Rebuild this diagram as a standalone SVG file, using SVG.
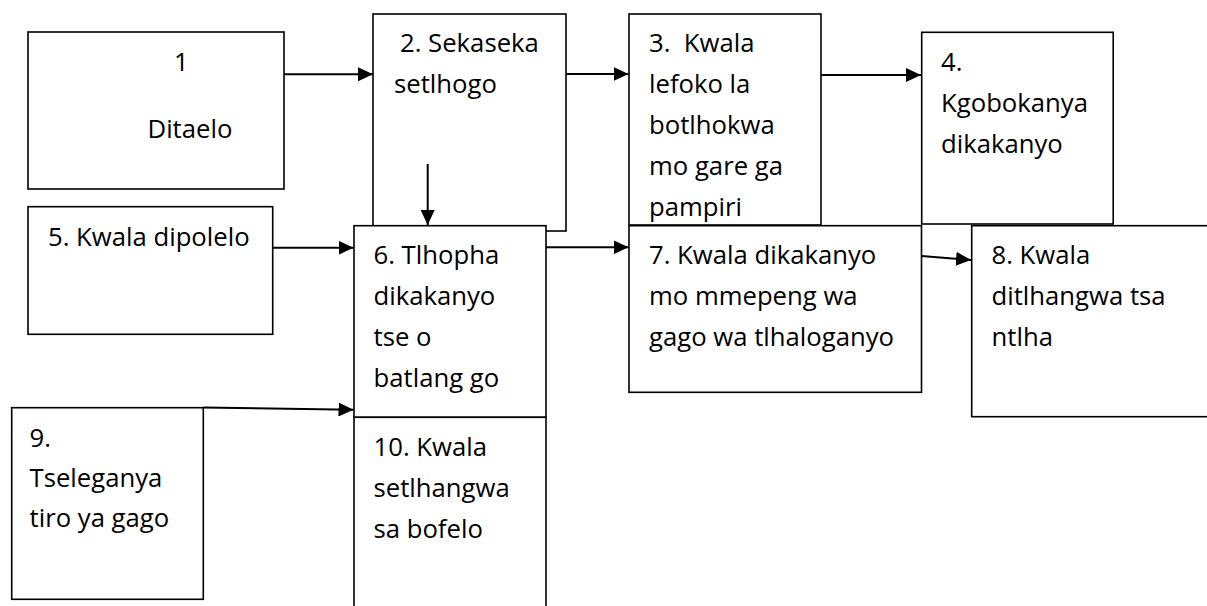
<svg xmlns="http://www.w3.org/2000/svg" width="1207" height="606" viewBox="0 0 1207 606">
<style>
.box{fill:#fff;stroke:#000;stroke-width:1.6}
.t{font-family:"Open Sans","Noto Sans",sans-serif;font-size:25.7px;fill:#000;white-space:pre}
.c{stroke:#000;stroke-width:2;fill:none;marker-end:url(#ah)}
</style>
<defs>
<marker id="ah" markerUnits="userSpaceOnUse" markerWidth="15" markerHeight="14" refX="15" refY="7" orient="auto" viewBox="0 0 15 14"><path d="M0,0 L15,7 L0,14 z" fill="#000"/></marker>
</defs>
<rect width="1207" height="606" fill="#fff"/>
<g id="node1">
<rect class="box" x="28" y="32" width="256" height="157"/>
<text class="t" x="174" y="71">1</text>
<text class="t" x="147.5" y="138">Ditaelo</text>
</g>
<g id="node2">
<rect class="box" x="373" y="14" width="193" height="217"/>
<text class="t" x="400" y="52">2. Sekaseka</text>
<text class="t" x="394" y="93">setlhogo</text>
</g>
<g id="node3">
<rect class="box" x="629" y="14" width="192" height="211"/>
<text class="t" x="649" y="52" xml:space="preserve">3.  Kwala</text>
<text class="t" x="649" y="93">lefoko la</text>
<text class="t" x="649" y="134">botlhokwa</text>
<text class="t" x="649" y="175">mo gare ga</text>
<text class="t" x="649" y="216">pampiri</text>
</g>
<g id="node4">
<rect class="box" x="921.7" y="32.3" width="191.5" height="191.7"/>
<text class="t" x="941" y="71">4.</text>
<text class="t" x="941" y="112">Kgobokanya</text>
<text class="t" x="941" y="153">dikakanyo</text>
</g>
<g id="node5">
<rect class="box" x="28" y="206.7" width="244.7" height="127.6"/>
<text class="t" x="48" y="246">5. Kwala dipolelo</text>
</g>
<g id="node6">
<rect class="box" x="354" y="225.7" width="192" height="191.6"/>
<text class="t" x="373.5" y="264">6. Tlhopha</text>
<text class="t" x="373.5" y="305">dikakanyo</text>
<text class="t" x="373.5" y="346">tse o</text>
<text class="t" x="373.5" y="387">batlang go</text>
</g>
<g id="node10">
<rect class="box" x="354" y="417.3" width="192" height="200"/>
<text class="t" x="373.5" y="456">10. Kwala</text>
<text class="t" x="373.5" y="497">setlhangwa</text>
<text class="t" x="373.5" y="538">sa bofelo</text>
</g>
<g id="node7">
<rect class="box" x="629" y="225.7" width="292.5" height="166.6"/>
<text class="t" x="649" y="264">7. Kwala dikakanyo</text>
<text class="t" x="649" y="305">mo mmepeng wa</text>
<text class="t" x="649" y="346">gago wa tlhaloganyo</text>
</g>
<g id="node8">
<rect class="box" x="971.7" y="225.7" width="250" height="191"/>
<text class="t" x="991.5" y="264">8. Kwala</text>
<text class="t" x="991.5" y="305">ditlhangwa tsa</text>
<text class="t" x="991.5" y="346">ntlha</text>
</g>
<g id="node9">
<rect class="box" x="11.7" y="407.7" width="191.6" height="191.6"/>
<text class="t" x="29.5" y="447">9.</text>
<text class="t" x="29.5" y="487">Tseleganya</text>
<text class="t" x="29.5" y="527">tiro ya gago</text>
</g>
<g id="connectors">
<line class="c" x1="284" y1="74.3" x2="373" y2="74.3"/>
<line class="c" x1="566" y1="74" x2="628.5" y2="74"/>
<line class="c" x1="821" y1="75" x2="921" y2="75"/>
<line class="c" x1="427.7" y1="164" x2="427.7" y2="225"/>
<line class="c" x1="272.7" y1="247.7" x2="353.5" y2="247.7"/>
<line class="c" x1="546" y1="247.3" x2="628.5" y2="247.3"/>
<line class="c" x1="921.5" y1="256" x2="971" y2="260"/>
<line class="c" x1="203.3" y1="407.5" x2="353.5" y2="409.7"/>
</g>
</svg>
